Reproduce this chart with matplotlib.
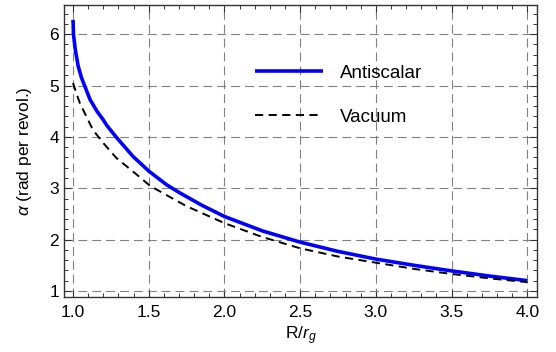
import numpy as np
import matplotlib
matplotlib.use("Agg")
import matplotlib.pyplot as plt
from matplotlib.ticker import MultipleLocator, FormatStrFormatter

plt.rcParams["font.family"] = ["Liberation Sans", "DejaVu Sans"]
plt.rcParams["mathtext.fontset"] = "custom"
plt.rcParams["mathtext.rm"] = "Liberation Sans"
plt.rcParams["mathtext.it"] = "Liberation Sans:italic"

# ---------------------------------------------------------------------------
# Data
# ---------------------------------------------------------------------------
r_anti = [1.0, 1.003, 1.015, 1.034, 1.055, 1.076, 1.112, 1.158, 1.2, 1.224,
          1.284, 1.396, 1.502, 1.617, 1.705, 1.85, 2.0, 2.25, 2.5, 2.75,
          3.0, 3.25, 3.5, 3.75, 4.0]
a_anti = [6.28, 6.00, 5.70, 5.38, 5.16, 5.00, 4.73, 4.50, 4.33, 4.22,
          4.00, 3.62, 3.33, 3.07, 2.91, 2.67, 2.45, 2.17, 1.95, 1.77,
          1.62, 1.50, 1.39, 1.29, 1.20]

r_vac = [1.0, 1.021, 1.045, 1.076, 1.131, 1.197, 1.286, 1.419, 1.507, 1.639,
         1.75, 2.0, 2.25, 2.5, 2.75, 3.0, 3.25, 3.5, 3.75, 4.0]
a_vac = [5.05, 4.86, 4.66, 4.47, 4.14, 3.89, 3.59, 3.27, 3.05, 2.83,
         2.65, 2.32, 2.05, 1.83, 1.67, 1.55, 1.43, 1.33, 1.245, 1.17]

# ---------------------------------------------------------------------------
# Plot
# ---------------------------------------------------------------------------
fig = plt.figure(figsize=(5.56, 3.52), dpi=100)
ax = fig.add_axes([0.115, 0.156, 0.851, 0.830])

ax.plot(r_anti, a_anti, color="#0000ff", linewidth=2.6, label="Antiscalar",
        solid_capstyle="butt", solid_joinstyle="round", zorder=3)
ax.plot(r_vac, a_vac, color="black", linewidth=1.4, linestyle=(0, (4.2, 2.8)),
        label="Vacuum", zorder=3)

ax.set_xlim(0.94, 4.065)
ax.set_ylim(0.88, 6.57)
ax.xaxis.set_major_locator(MultipleLocator(0.5))
ax.xaxis.set_minor_locator(MultipleLocator(0.1))
ax.yaxis.set_major_locator(MultipleLocator(1))
ax.yaxis.set_minor_locator(MultipleLocator(0.2))
ax.xaxis.set_major_formatter(FormatStrFormatter("%.1f"))

ax.tick_params(which="both", direction="in", top=True, right=True,
               labelsize=12.5, color="#333333")
ax.tick_params(axis="x", which="major", pad=6)
ax.tick_params(which="major", length=5, width=0.8)
ax.tick_params(which="minor", length=3, width=0.7)
for s in ax.spines.values():
    s.set_color("#333333")
    s.set_linewidth(1.0)

ax.grid(which="major", color="#808080", linestyle=(0, (8, 4.5)), linewidth=0.8)

ax.set_xlabel("R/$r_g$", fontsize=12.5, labelpad=3)
ax.set_ylabel(r"$\alpha$ (rad per revol.)", fontsize=12.5, labelpad=11)

ax.legend(loc="upper left", bbox_to_anchor=(0.404, 0.796), frameon=False,
          fontsize=13.5, handlelength=3.63, handletextpad=0.9,
          labelspacing=1.45, borderaxespad=0, borderpad=0)

plt.savefig("out.png", dpi=100)
plt.close()
